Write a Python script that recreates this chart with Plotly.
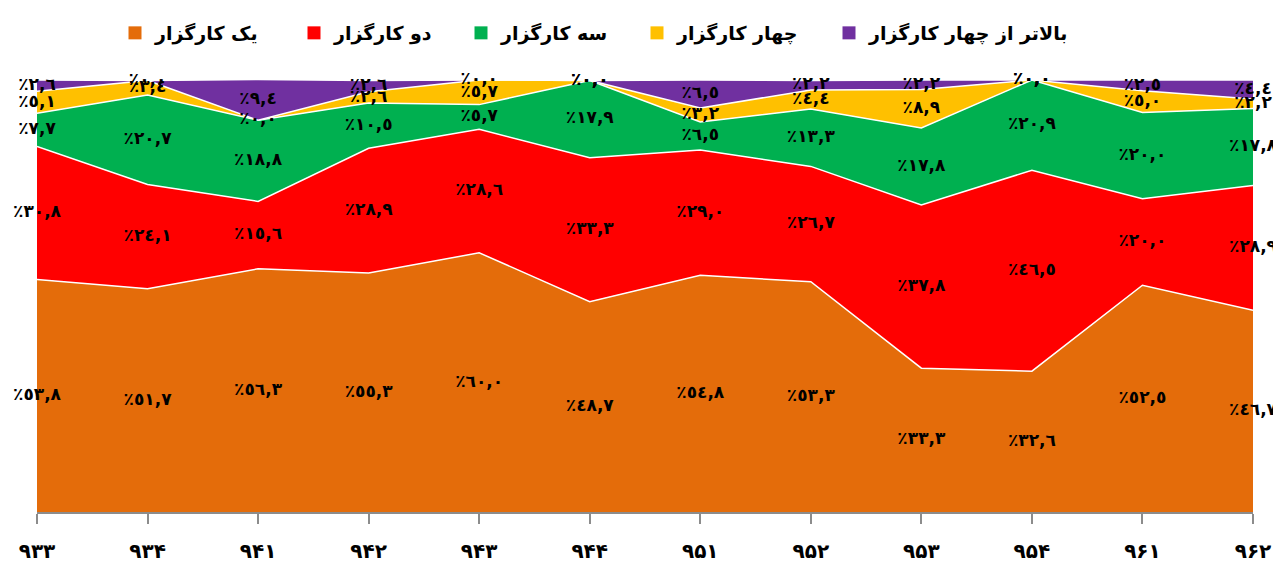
import plotly.graph_objects as go

categories = ["۹۳۳", "۹۳۴", "۹۴۱", "۹۴۲", "۹۴۳", "۹۴۴", "۹۵۱", "۹۵۲", "۹۵۳", "۹۵۴", "۹۶۱", "۹۶۲"]
series_names = ["یک کارگزار", "دو کارگزار", "سه کارگزار", "چهار کارگزار", "بالاتر از چهار کارگزار"]
one_broker = [53.8, 51.7, 56.3, 55.3, 60.0, 48.7, 54.8, 53.3, 33.3, 32.6, 52.5, 46.7]
two_brokers = [30.8, 24.1, 15.6, 28.9, 28.6, 33.3, 29.0, 26.7, 37.8, 46.5, 20.0, 28.9]
three_brokers = [7.7, 20.7, 18.8, 10.5, 5.7, 17.9, 6.5, 13.3, 17.8, 20.9, 20.0, 17.8]
four_brokers = [5.1, 3.4, 0.0, 2.6, 5.7, 0.0, 3.2, 4.4, 8.9, 0.0, 5.0, 2.2]
more_brokers = [2.6, 0.0, 9.4, 2.6, 0.0, 0.0, 6.5, 2.2, 2.2, 0.0, 2.5, 4.4]
colors = ["#E46C0A", "#FF0000", "#00B050", "#FFC000", "#7030A0"]

all_series = [one_broker, two_brokers, three_brokers, four_brokers, more_brokers]

AR = str.maketrans("0123456789", "٠١٢٣٤٥٦٧٨٩")


def fmt(v):
    return "٪" + f"{v:.1f}".translate(AR).replace(".", ",")


W, H = 1273, 554
legend_left_px = [107, 286, 453, 629, 821]  # left edge of each legend entry (figure px)

fig = go.Figure()
legend_layout = {}
for i, (name, vals, col) in enumerate(zip(series_names, all_series, colors)):
    fig.add_trace(go.Scatter(
        x=categories, y=vals, name=name, stackgroup="one", mode="lines",
        line=dict(color="white", width=1.5), fillcolor=col,
        hoverinfo="skip", showlegend=False,
    ))
    lg = "legend" if i == 0 else f"legend{i + 1}"
    fig.add_trace(go.Scatter(
        x=[None], y=[None], name=name, mode="markers", legend=lg,
        marker=dict(symbol="square", size=13, color=col), showlegend=True,
    ))
    legend_layout[lg] = dict(
        orientation="h", xref="container", x=legend_left_px[i] / W, xanchor="left",
        yref="container", y=1 - 25 / H, yanchor="middle", bgcolor="rgba(0,0,0,0)",
        font=dict(family="DejaVu Sans", size=19, color="black", weight="bold"),
        itemwidth=30,
    )

# labels at middle of each stacked band
base = [0.0] * len(categories)
for vals in all_series:
    mids = [b + v / 2 for b, v in zip(base, vals)]
    fig.add_trace(go.Scatter(
        x=categories, y=mids, mode="text", text=[fmt(v) for v in vals],
        textfont=dict(family="DejaVu Sans", size=17, color="black", weight="bold"),
        showlegend=False, cliponaxis=False, hoverinfo="skip",
    ))
    base = [b + v for b, v in zip(base, vals)]

fig.update_layout(
    width=W, height=H,
    margin=dict(l=29, r=W - 1245, t=72, b=H - 504, autoexpand=False),
    paper_bgcolor="white", plot_bgcolor="white",
    xaxis=dict(type="category", range=[0, len(categories) - 1], showgrid=False,
               showline=True, linecolor="#8C8C8C", linewidth=2, automargin=False,
               ticks="outside", ticklen=10, tickcolor="#8C8C8C", tickwidth=1.5,
               ticklabelstandoff=10,
               tickfont=dict(family="DejaVu Sans", size=20, color="black", weight="bold"),
               zeroline=False),
    yaxis=dict(range=[0, 100], visible=False, showgrid=False, zeroline=False, automargin=False),
    **legend_layout,
)

fig.write_html("out.html")
